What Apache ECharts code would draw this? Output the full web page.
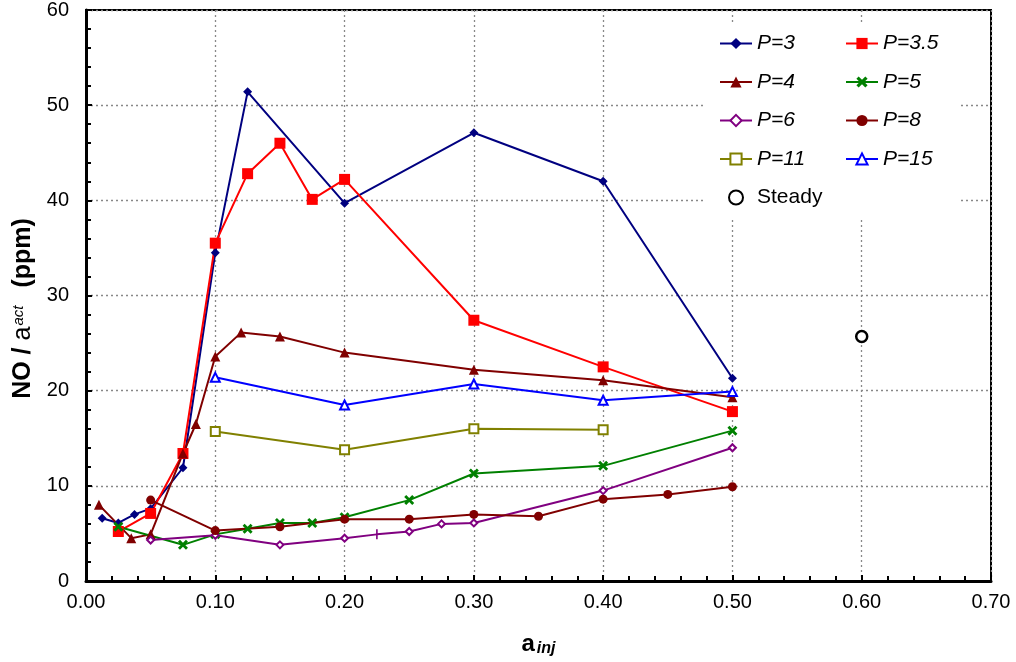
<!DOCTYPE html>
<html>
<head>
<meta charset="utf-8">
<script src="https://cdn.jsdelivr.net/npm/echarts@6/dist/echarts.min.js"></script>
<style>
html,body{margin:0;padding:0;background:#fff;}
#chart{width:1016px;height:662px;}
</style>
</head>
<body>
<div id="chart"></div>
<script>
// ---- data (x = a_inj, y = NO / a_act in ppm) ----
const p3   = [[0.0125,6.6],[0.025,6.1],[0.0375,7.0],[0.05,7.6],[0.075,11.9],[0.1,34.5],[0.125,51.4],[0.2,39.7],[0.3,47.1],[0.4,42.0],[0.5,21.3]];
const p35  = [[0.025,5.2],[0.05,7.1],[0.075,13.4],[0.1,35.5],[0.125,42.8],[0.15,46.0],[0.175,40.1],[0.2,42.2],[0.3,27.4],[0.4,22.5],[0.5,17.8]];
const p4   = [[0.01,8.0],[0.035,4.5],[0.05,4.9],[0.075,13.4],[0.085,16.5],[0.1,23.6],[0.12,26.1],[0.15,25.7],[0.2,24.0],[0.3,22.2],[0.4,21.1],[0.5,19.3]];
const p5   = [[0.025,5.7],[0.075,3.8],[0.1,4.9],[0.125,5.5],[0.15,6.1],[0.175,6.1],[0.2,6.7],[0.25,8.5],[0.3,11.3],[0.4,12.1],[0.5,15.8]];
const p6   = [[0.05,4.3],[0.1,4.8],[0.15,3.8],[0.2,4.5],[0.225,4.9],[0.25,5.2],[0.275,6.0],[0.3,6.1],[0.4,9.5],[0.5,14.0]];
const p8   = [[0.05,8.5],[0.1,5.3],[0.15,5.7],[0.2,6.5],[0.25,6.5],[0.3,7.0],[0.35,6.8],[0.4,8.6],[0.45,9.1],[0.5,9.9]];
const p11  = [[0.1,15.7],[0.2,13.8],[0.3,16.0],[0.4,15.9]];
const p15  = [[0.1,21.4],[0.2,18.5],[0.3,20.7],[0.4,19.0],[0.5,19.9]];
const steady = [[0.6,25.7]];
const xTicks = {min:0, max:0.7, step:0.1};
const yTicks = {min:0, max:60, step:10};

const FONT = '"Liberation Sans", Arial, Helvetica, sans-serif';
const crossPath = 'path://M0,2 L2,0 L5,3 L8,0 L10,2 L7,5 L10,8 L8,10 L5,7 L2,10 L0,8 L3,5 Z';

function lineSeries(name, data, color, symbol, size, empty) {
  return {
    name, type:'line', data, symbol, symbolSize:size,
    showSymbol:true, animation:false, z:3,
    lineStyle:{color, width:2},
    itemStyle: empty ? {color, borderColor:color, borderWidth:2} : {color, borderColor:color, borderWidth:0}
  };
}

const p6Data = p6.map((d,i)=> i===4 ? {value:d, symbol:'rect', symbolSize:[1.6,10], itemStyle:{borderWidth:0}} : d);

const series = [
  lineSeries('P=3', p3, '#000080', 'diamond', 9, false),
  lineSeries('P=3.5', p35, '#ff0000', 'rect', 11, false),
  lineSeries('P=4', p4, '#800000', 'triangle', 10, false),
  lineSeries('P=5', p5, '#008000', crossPath, 10, false),
  lineSeries('P=6', p6Data, '#800080', 'emptyDiamond', 7, true),
  lineSeries('P=8', p8, '#800000', 'circle', 9, false),
  lineSeries('P=11', p11, '#808000', 'emptyRect', 9, true),
  lineSeries('P=15', p15, '#0000ff', 'emptyTriangle', 9, true),
  {name:'Steady', type:'scatter', data:steady, symbol:'circle', symbolSize:11, animation:false, z:3,
   itemStyle:{color:'#fff', borderColor:'#000', borderWidth:2.5, opacity:1}}
];

const legendText = {fontSize:21, fontStyle:'italic', fontFamily:FONT, color:'#000'};
const chart = echarts.init(document.getElementById('chart'), null, {renderer:'canvas'});
chart.setOption({
  animation:false,
  backgroundColor:'#fff',
  grid:{left:86, right:25, top:9, bottom:77, show:true, borderColor:'#000', borderWidth:2, backgroundColor:'transparent'},
  graphic:[{type:'rect', shape:{x:705, y:22, width:255, height:195}, style:{fill:'#fff'}, z:1, silent:true}],
  legend:[
    {data:['P=3','P=4','P=6','P=11',{name:'Steady', textStyle:{fontStyle:'normal'}}],
     orient:'vertical', left:714, top:28, itemWidth:32, itemHeight:14, itemGap:17.5,
     textStyle:legendText, z:5, selectedMode:false},
    {data:['P=3.5','P=5','P=8','P=15'],
     orient:'vertical', left:840, top:28, itemWidth:32, itemHeight:14, itemGap:17.5,
     textStyle:legendText, z:5, selectedMode:false}
  ],
  xAxis:{
    type:'value', min:xTicks.min, max:xTicks.max, interval:xTicks.step,
    name:'{a|a}{s|inj}', nameLocation:'middle', nameGap:50,
    nameTextStyle:{rich:{
      a:{fontSize:24, fontWeight:'bold', fontFamily:FONT, color:'#000'},
      s:{fontSize:16, fontWeight:'bold', fontStyle:'italic', fontFamily:FONT, color:'#000', padding:[10,0,0,2]}
    }},
    axisLine:{show:true, onZero:false, lineStyle:{color:'#000', width:3}},
    axisTick:{show:true, inside:true, length:6, lineStyle:{color:'#000', width:2}},
    minorTick:{show:true, splitNumber:5, length:5, lineStyle:{color:'#000', width:2}},
    axisLabel:{formatter:v=>v.toFixed(2), fontSize:20, color:'#000', fontFamily:FONT, margin:11},
    splitLine:{show:true, lineStyle:{color:'#888', type:[2,3], width:1.3}}
  },
  yAxis:{
    type:'value', min:yTicks.min, max:yTicks.max, interval:yTicks.step,
    name:'{b|NO / }{n|a}{s|act}{e|(ppm)}', nameLocation:'middle', nameGap:38,
    nameTextStyle:{rich:{
      b:{fontSize:25, fontWeight:'bold', fontFamily:FONT, color:'#000'},
      n:{fontSize:25, fontFamily:FONT, color:'#000'},
      s:{fontSize:15, fontStyle:'italic', fontFamily:FONT, color:'#000', padding:[0,0,9,1]},
      e:{fontSize:25, fontWeight:'bold', fontFamily:FONT, color:'#000', padding:[0,26,0,18]}
    }},
    axisLine:{show:true, onZero:false, lineStyle:{color:'#000', width:3}},
    axisTick:{show:true, inside:true, length:6, lineStyle:{color:'#000', width:2}},
    minorTick:{show:true, splitNumber:5, length:5, lineStyle:{color:'#000', width:2}},
    axisLabel:{fontSize:20, color:'#000', fontFamily:FONT, margin:17},
    splitLine:{show:true, lineStyle:{color:'#888', type:[2,3], width:1.3}}
  },
  series
});
</script>
</body>
</html>
